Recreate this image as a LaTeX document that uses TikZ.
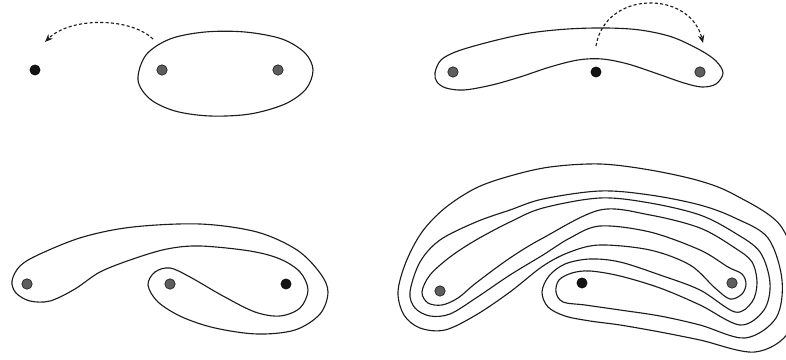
\documentclass[tikz,border=0pt]{standalone}
\usepackage{xcolor}
\usepackage{tikz}
\usetikzlibrary{arrows.meta}
\definecolor{ink}{HTML}{1C1C1C}
\definecolor{puncgray}{HTML}{5E5E5E}
\tikzset{
  loopline/.style = {draw=ink, line width=0.8pt},
  swap/.style     = {draw=ink, line width=0.8pt, dash pattern=on 2.2pt off 1.6pt, -{Stealth[length=2mm,width=1.6mm]}},
  ptblack/.style  = {circle, draw=black, fill=black!92, line width=0.3pt, minimum size=2.6mm, inner sep=0pt, outer sep=0pt},
  ptgray/.style   = {circle, draw=black!85, fill=puncgray, line width=0.5pt, minimum size=2.6mm, inner sep=0pt, outer sep=0pt},
}

\begin{document}
\begin{tikzpicture}[x=0.25mm,y=-0.25mm]
\path[use as bounding box] (0,0) rectangle (786,360);
\clip (0,0) rectangle (786,360);

% ---- top left: the disc round two points, one point swaps in ------------
\draw[loopline] plot[smooth cycle, tension=0.55] coordinates {
  (138,80) (146,55) (170,39) (205,32) (245,32) (282,39) (305,53) (313,70)
  (306,89) (285,104) (250,114) (210,116) (175,111) (150,99)};
\node[ptblack] (ta) at (35,70) {};
\node[ptgray]  (tb) at (162,70) {};
\node[ptgray]  (tc) at (278,70) {};
\coordinate (tswapfrom) at (153,39);
\coordinate (tswapto) at (45,42);
\draw[swap] (tswapfrom) .. controls (130,17) and (70,17) .. (tswapto);

% ---- top right: after the first half twist ------------------------------
\draw[loopline] plot[smooth cycle, tension=0.55] coordinates {
  (435,73) (441,60) (458,51) (493,41) (530,33) (568,29) (606,28) (640,30)
  (672,37) (700,50) (716,61) (723,73) (716,84) (702,87) (684,83) (658,74)
  (628,64) (602,59) (578,60) (550,67) (520,77) (492,85) (464,90) (446,88)
  (437,82)};
\node[ptgray]  (ua) at (453,72) {};
\node[ptblack] (ub) at (596,72) {};
\node[ptgray]  (uc) at (700,72) {};
\coordinate (uswapfrom) at (596,46);
\coordinate (uswapto) at (703,43);
\draw[swap] (uswapfrom) .. controls (605,-10) and (690,-10) .. (uswapto);

% ---- bottom left: after the second half twist ---------------------------
\draw[loopline] plot[smooth cycle, tension=0.55] coordinates {
  (12,281) (20,266) (40,254) (83,237) (133,227) (200,224) (257,232) (297,250)
  (320,273) (328,292) (320,314) (295,330) (257,334) (215,328) (182,317) (158,302)
  (148,285) (155,272) (170,268) (190,277) (223,296) (255,312) (280,316) (300,308)
  (308,290) (300,272) (280,259) (250,251) (200,246) (167,249) (133,259) (100,272)
  (75,289) (50,301) (30,301) (16,293)};
\node[ptgray]  (va) at (27,284) {};
\node[ptgray]  (vb) at (170,284) {};
\node[ptblack] (vc) at (286,284) {};

% ---- bottom right: further twists, one curve wound round -----------------
\draw[loopline] plot[smooth cycle, tension=0.55] coordinates {
  (600,164) (550,167) (510,176) (476,188) (445,208) (422,232) (406,262) (398,292)
  (404,315) (420,328) (445,330) (476,315) (510,292) (543,266) (570,252) (600,245)
  (650,250) (690,265) (715,288) (730,299) (742,294) (746,284) (742,274) (728,267)
  (700,250) (650,232) (600,226) (570,238) (543,255) (510,275) (476,298) (450,314)
  (430,316) (415,308) (410,292) (420,262) (440,240) (476,222) (510,210) (543,199)
  (600,191) (650,195) (700,205) (735,218) (768,238) (782,280) (776,318) (745,338)
  (700,325) (660,316) (620,310) (585,305) (563,302) (556,292) (559,280) (572,273)
  (590,271) (620,276) (660,288) (700,305) (740,325) (764,310) (770,283) (760,252)
  (735,233) (700,215) (650,203) (600,198) (543,208) (510,222) (476,240) (450,257)
  (430,275) (422,292) (428,303) (442,305) (458,298) (476,283) (510,258) (543,238)
  (600,210) (650,215) (700,228) (735,248) (752,262) (757,283) (752,302) (735,312)
  (700,290) (660,275) (620,262) (590,259) (565,264) (549,276) (542,292) (548,307)
  (565,316) (590,321) (620,325) (660,332) (700,340) (755,352) (790,330) (797,275)
  (780,225) (735,195) (700,181) (650,170)};
\node[ptgray]  (wa) at (440,291) {};
\node[ptblack] (wb) at (582,283) {};
\node[ptgray]  (wc) at (732,283) {};

\end{tikzpicture}
\end{document}
